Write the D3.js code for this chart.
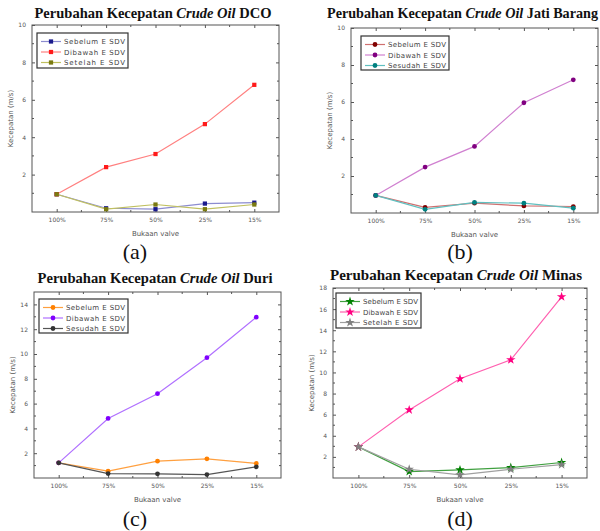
<!DOCTYPE html>
<html>
<head>
<meta charset="utf-8">
<script src="https://cdn.jsdelivr.net/npm/d3@7"></script>
<style>
  body { margin: 0; background: #fff; }
  svg { display: block; }
  .tick text { font-family: "DejaVu Sans", sans-serif; font-size: 6px; fill: #555; }
  .axlabel { font-family: "DejaVu Sans", sans-serif; font-size: 7px; fill: #555; }
  .legend text { font-family: "DejaVu Sans", sans-serif; font-size: 7px; fill: #444; }
  .title { font-family: "Liberation Serif", "Times New Roman", serif; font-weight: bold; font-size: 14px; fill: #111; }
  .caption { font-family: "Liberation Serif", "Times New Roman", serif; font-size: 22px; fill: #111; }
</style>
</head>
<body>
<div id="chart"></div>
<script>
// DATA
var categories = ["100%", "75%", "50%", "25%", "15%"];

var dcoSebelum = [0.95, 0.2, 0.15, 0.45, 0.5];
var dcoDibawah = [0.95, 2.4, 3.1, 4.7, 6.8];
var dcoSetelah = [0.95, 0.15, 0.4, 0.15, 0.4];

var jatiSebelum = [0.95, 0.3, 0.53, 0.38, 0.35];
var jatiDibawah = [0.95, 2.48, 3.6, 5.96, 7.2];
var jatiSesudah = [0.95, 0.2, 0.57, 0.53, 0.26];

var duriSebelum = [1.22, 0.55, 1.36, 1.55, 1.17];
var duriDibawah = [1.22, 4.8, 6.8, 9.7, 12.97];
var duriSesudah = [1.22, 0.36, 0.34, 0.28, 0.9];

var minasSebelum = [2.95, 0.61, 0.77, 0.99, 1.47];
var minasDibawah = [2.95, 6.45, 9.4, 11.2, 17.17];
var minasSetelah = [2.95, 0.83, 0.3, 0.83, 1.26];

var ticksA = [2, 4, 6, 8, 10];
var ticksC = [2, 4, 6, 8, 10, 12, 14];
var ticksD = [2, 4, 6, 8, 10, 12, 14, 16, 18];

var svg = d3.select('#chart').append('svg')
  .attr('width', 600)
  .attr('height', 531);

function translation(x, y) { return 'translate(' + x + ',' + y + ')'; }

var panels = [
  { box: [32, 279, 25, 212], ymax: 10, ticks: ticksA, place: 'DCO',
    title: { x: 153, y: 18, anchor: 'middle', len: 237 },
    caption: { x: 135, y: 259, text: '(a)' },
    legend: [37, 33, 91, 35], symbol: 'square',
    series: [
      { name: 'Sebelum ESDV', values: dcoSebelum, color: '#1a1a8c', line: '#8c8cd0' },
      { name: 'Dibawah ESDV', values: dcoDibawah, color: '#ff1a1a', line: '#ff8080' },
      { name: 'Setelah ESDV', values: dcoSetelah, color: '#7a7a10', line: '#c0c060' }
    ] },
  { box: [351, 598, 28, 213], ymax: 10, ticks: ticksA, place: 'Jati Barang',
    title: { x: 327, y: 18, anchor: 'start', len: 271 },
    caption: { x: 460, y: 259, text: '(b)' },
    legend: [361, 36, 88, 34], symbol: 'circle',
    series: [
      { name: 'Sebelum ESDV', values: jatiSebelum, color: '#800000', line: '#d07070' },
      { name: 'Dibawah ESDV', values: jatiDibawah, color: '#800080', line: '#d080d0' },
      { name: 'Sesudah ESDV', values: jatiSesudah, color: '#008080', line: '#60c0c0' }
    ] },
  { box: [34, 281, 292, 478], ymax: 15, ticks: ticksC, place: 'Duri',
    title: { x: 155, y: 283, anchor: 'middle', len: 235 },
    caption: { x: 135, y: 526, text: '(c)' },
    legend: [39, 299, 89, 34], symbol: 'circle',
    series: [
      { name: 'Sebelum ESDV', values: duriSebelum, color: '#ff8000', line: '#ffa040' },
      { name: 'Dibawah ESDV', values: duriDibawah, color: '#8000ff', line: '#b070ff' },
      { name: 'Sesudah ESDV', values: duriSesudah, color: '#333333', line: '#555555' }
    ] },
  { box: [333, 587, 288, 478], ymax: 18, ticks: ticksD, place: 'Minas',
    title: { x: 456, y: 280, anchor: 'middle', len: 252 },
    caption: { x: 460, y: 526, text: '(d)' },
    legend: [336, 293, 85, 35], symbol: 'star',
    series: [
      { name: 'Sebelum ESDV', values: minasSebelum, color: '#008000', line: '#40a040' },
      { name: 'Dibawah ESDV', values: minasDibawah, color: '#ff0080', line: '#ff60b0' },
      { name: 'Setelah ESDV', values: minasSetelah, color: '#808080', line: '#a0a0a0' }
    ] }
];

var symbols = { square: d3.symbolSquare, circle: d3.symbolCircle, star: d3.symbolStar };

panels.forEach(function(p) {
  var left = p.box[0], right = p.box[1], top = p.box[2], bottom = p.box[3];

  var x = d3.scalePoint().domain(categories).range([left, right]).padding(0.5);
  var y = d3.scaleLinear().domain([0, p.ymax]).range([bottom, top]);
  var step = x.step();

  var g = svg.append('g');

  // frame
  g.append('rect')
    .attr('x', left).attr('y', top)
    .attr('width', right - left).attr('height', bottom - top)
    .attr('fill', 'none').attr('stroke', '#555').attr('stroke-width', 1);

  // axes, ticks inward
  var minorX = categories.slice(0, -1).map(function(c) { return x(c) + step / 2; });
  var minorY = d3.range(1, p.ymax, 2);

  g.append('g').attr('transform', translation(0, bottom))
    .call(d3.axisBottom(x).tickSizeInner(-3).tickSizeOuter(0).tickPadding(6))
    .call(function(s) { s.select('.domain').remove(); s.selectAll('line').attr('stroke', '#555'); });
  g.append('g').attr('transform', translation(0, top))
    .call(d3.axisTop(x).tickSizeInner(-3).tickSizeOuter(0).tickFormat(''))
    .call(function(s) { s.select('.domain').remove(); s.selectAll('line').attr('stroke', '#555'); });
  g.append('g').attr('transform', translation(left, 0))
    .call(d3.axisLeft(y).tickValues(p.ticks).tickSizeInner(-3).tickSizeOuter(0).tickPadding(6))
    .call(function(s) { s.select('.domain').remove(); s.selectAll('line').attr('stroke', '#555'); });
  g.append('g').attr('transform', translation(right, 0))
    .call(d3.axisRight(y).tickValues(p.ticks).tickSizeInner(-3).tickSizeOuter(0).tickFormat(''))
    .call(function(s) { s.select('.domain').remove(); s.selectAll('line').attr('stroke', '#555'); });

  // minor ticks
  [bottom, top].forEach(function(yy) {
    g.selectAll(null).data(minorX).enter().append('line')
      .attr('x1', function(d) { return d; }).attr('x2', function(d) { return d; })
      .attr('y1', yy).attr('y2', yy === bottom ? yy - 2 : yy + 2)
      .attr('stroke', '#555');
  });
  [left, right].forEach(function(xx) {
    g.selectAll(null).data(minorY).enter().append('line')
      .attr('y1', function(d) { return y(d); }).attr('y2', function(d) { return y(d); })
      .attr('x1', xx).attr('x2', xx === left ? xx + 2 : xx - 2)
      .attr('stroke', '#555');
  });

  // axis labels
  g.append('text').attr('class', 'axlabel')
    .attr('x', (left + right) / 2).attr('y', bottom + 24)
    .attr('text-anchor', 'middle').text('Bukaan valve');
  g.append('text').attr('class', 'axlabel')
    .attr('transform', translation(left - 19, (top + bottom) / 2) + 'rotate(-90)')
    .attr('text-anchor', 'middle').text('Kecepatan (m/s)');

  // lines and markers
  var line = d3.line()
    .x(function(d, i) { return x(categories[i]); })
    .y(function(d) { return y(d); });
  var sym = d3.symbol().type(symbols[p.symbol]).size(p.symbol === 'star' ? 28 : 18);

  p.series.forEach(function(s) {
    g.append('path').datum(s.values)
      .attr('d', line)
      .attr('fill', 'none').attr('stroke', s.line).attr('stroke-width', 1.2);
    g.selectAll(null).data(s.values).enter().append('path')
      .attr('d', sym)
      .attr('transform', function(d, i) { return translation(x(categories[i]), y(d)); })
      .attr('fill', s.color);
  });

  // legend
  var lx = p.legend[0], ly = p.legend[1], lw = p.legend[2], lh = p.legend[3];
  var lg = g.append('g').attr('class', 'legend');
  lg.append('rect').attr('x', lx).attr('y', ly).attr('width', lw).attr('height', lh)
    .attr('fill', '#fff').attr('stroke', '#333').attr('stroke-width', 1.2);
  p.series.forEach(function(s, i) {
    var ry = ly + 8.5 + i * 10.5;
    lg.append('line').attr('x1', lx + 4).attr('x2', lx + 24).attr('y1', ry).attr('y2', ry)
      .attr('stroke', s.line).attr('stroke-width', 1.2);
    lg.append('path').attr('d', sym).attr('transform', translation(lx + 14, ry)).attr('fill', s.color);
    lg.append('text').attr('x', lx + 27).attr('y', ry + 2.5)
      .attr('textLength', lw - 30).attr('lengthAdjust', 'spacing')
      .text(s.name.replace(' ESDV', ' E SDV'));
  });

  // title
  var t = svg.append('text').attr('class', 'title')
    .attr('x', p.title.x).attr('y', p.title.y)
    .attr('text-anchor', p.title.anchor)
    .attr('textLength', p.title.len).attr('lengthAdjust', 'spacingAndGlyphs');
  t.append('tspan').text('Perubahan Kecepatan ');
  t.append('tspan').attr('font-style', 'italic').text('Crude Oil');
  t.append('tspan').text(' ' + p.place);

  // caption
  svg.append('text').attr('class', 'caption')
    .attr('x', p.caption.x).attr('y', p.caption.y)
    .attr('text-anchor', 'middle').text(p.caption.text);
});
</script>
</body>
</html>
